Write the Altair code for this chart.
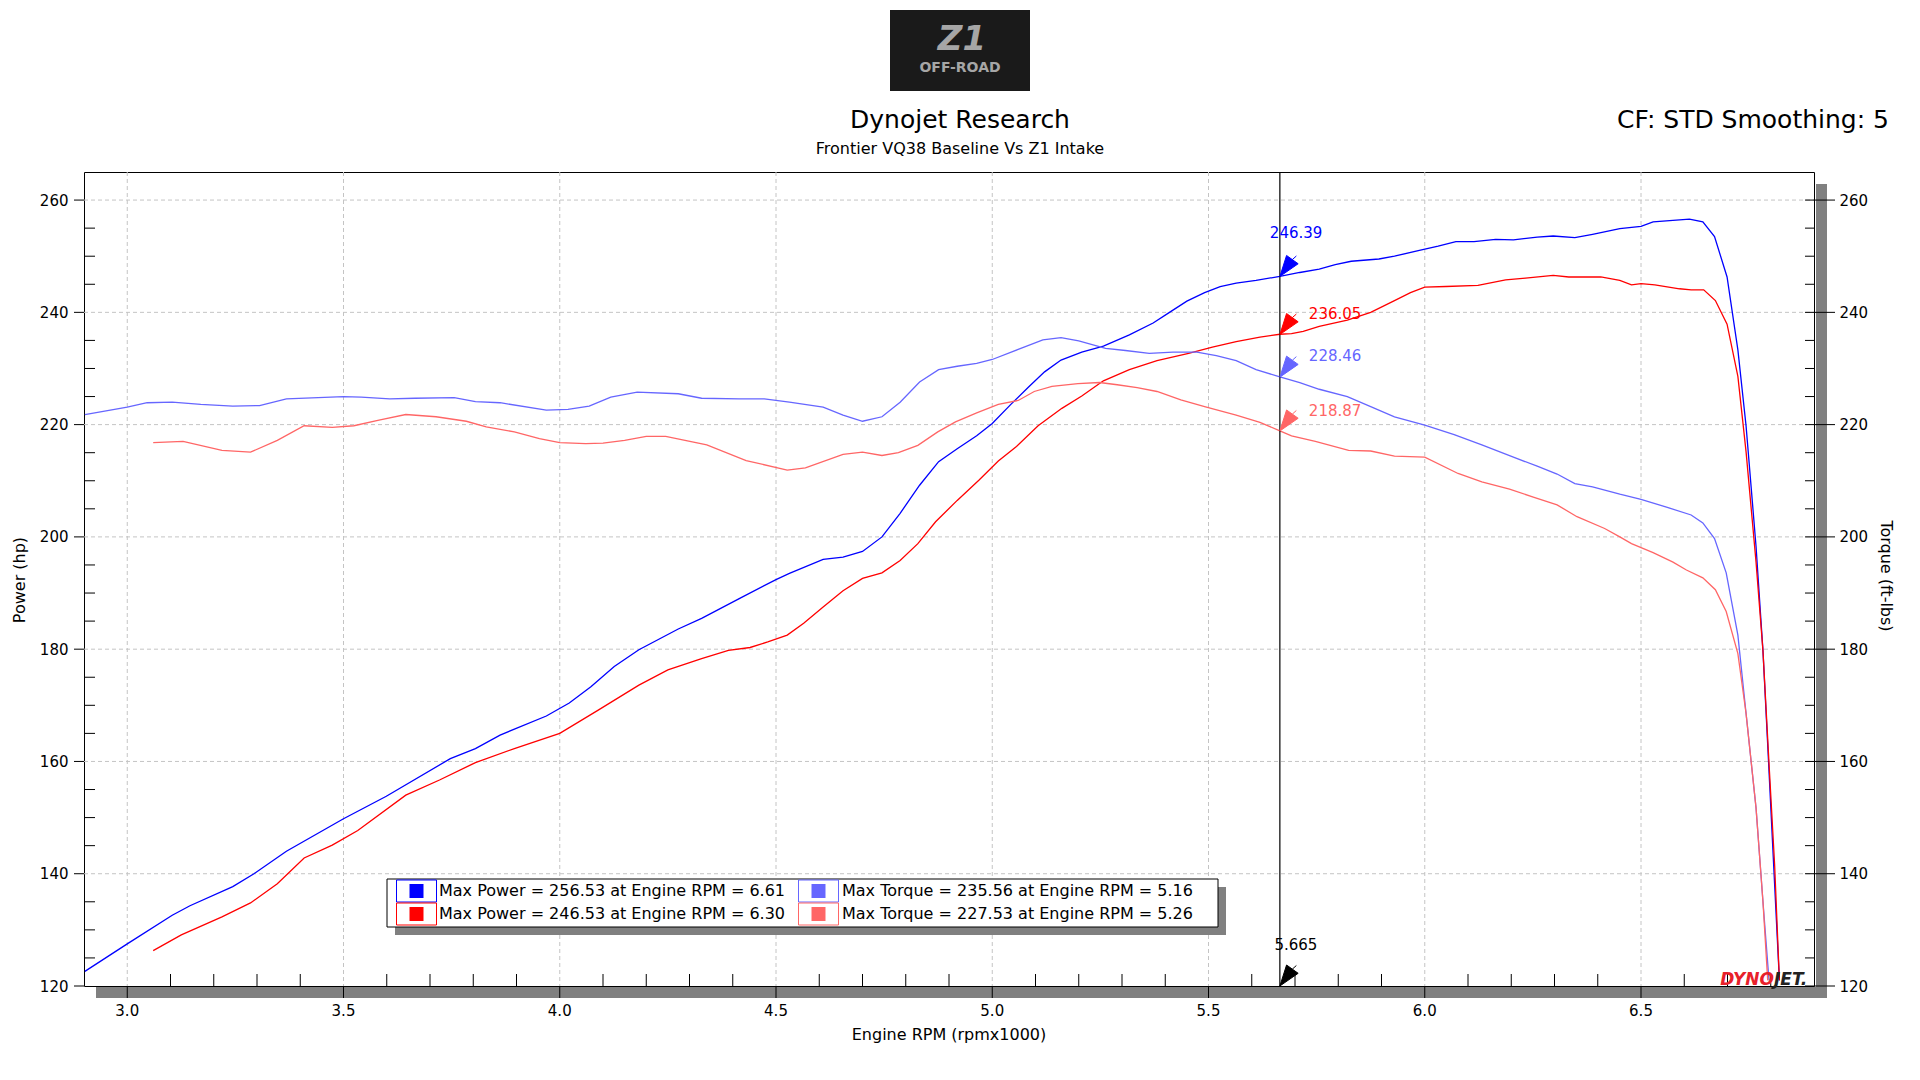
import altair as alt
import pandas as pd

# ---------------- data ----------------
P_Z1_RPM = [2.902, 3.000, 3.104, 3.145, 3.244, 3.293, 3.368, 3.500, 3.599, 3.747, 3.805, 3.862, 3.969,
            4.022, 4.072, 4.126, 4.183, 4.274, 4.328, 4.415, 4.500, 4.531, 4.609, 4.655, 4.700, 4.745,
            4.787, 4.832, 4.876, 4.919, 4.964, 5.000, 5.043, 5.084, 5.121, 5.159, 5.207, 5.257, 5.317,
            5.372, 5.408, 5.450, 5.491, 5.527, 5.564, 5.610, 5.665, 5.711, 5.756, 5.793, 5.830, 5.894,
            5.930, 5.985, 6.031, 6.072, 6.114, 6.164, 6.205, 6.260, 6.297, 6.347, 6.388, 6.451, 6.500,
            6.528, 6.612, 6.643, 6.670, 6.699, 6.724, 6.743, 6.766, 6.782, 6.793, 6.805, 6.820]
P_Z1_HP = [122.6, 127.5, 132.6, 134.3, 137.7, 140.0, 144.0, 149.8, 153.8, 160.5, 162.3, 164.7, 168.1,
           170.4, 173.3, 176.9, 179.9, 183.6, 185.5, 189.0, 192.4, 193.5, 196.0, 196.4, 197.4, 200.0,
           204.2, 209.2, 213.4, 215.7, 218.0, 220.2, 223.6, 226.7, 229.4, 231.5, 232.9, 234.0, 236.0,
           238.1, 239.9, 242.0, 243.5, 244.6, 245.2, 245.7, 246.4, 247.1, 247.7, 248.5, 249.1, 249.5,
           250.0, 251.0, 251.8, 252.6, 252.6, 253.0, 252.9, 253.4, 253.6, 253.3, 253.9, 254.9, 255.3,
           256.1, 256.6, 256.1, 253.5, 246.3, 233.3, 219.7, 198.3, 179.7, 162.9, 144.2, 121.0]

P_BASE_RPM = [3.060, 3.125, 3.219, 3.285, 3.347, 3.409, 3.474, 3.533, 3.644, 3.722, 3.805, 3.895, 4.000,
              4.088, 4.183, 4.250, 4.328, 4.390, 4.440, 4.481, 4.526, 4.564, 4.609, 4.655, 4.700, 4.745,
              4.787, 4.828, 4.869, 4.919, 4.969, 5.014, 5.056, 5.106, 5.161, 5.207, 5.257, 5.317, 5.381,
              5.454, 5.509, 5.564, 5.619, 5.665, 5.692, 5.719, 5.756, 5.821, 5.875, 5.930, 5.967, 6.000,
              6.049, 6.123, 6.187, 6.233, 6.297, 6.333, 6.407, 6.451, 6.478, 6.500, 6.532, 6.589, 6.616,
              6.645, 6.672, 6.699, 6.724, 6.743, 6.766, 6.782, 6.797, 6.809, 6.820]
P_BASE_HP = [126.3, 129.1, 132.3, 134.8, 138.2, 142.8, 145.1, 147.7, 154.0, 156.7, 159.8, 162.3, 165.0,
             169.1, 173.6, 176.3, 178.3, 179.8, 180.3, 181.3, 182.5, 184.6, 187.5, 190.4, 192.6, 193.6,
             195.8, 198.8, 202.7, 206.5, 210.1, 213.5, 216.1, 219.8, 222.9, 225.1, 227.8, 229.8, 231.4,
             232.7, 233.8, 234.8, 235.6, 236.1, 236.2, 236.6, 237.5, 238.6, 240.0, 242.1, 243.5, 244.5,
             244.6, 244.8, 245.8, 246.1, 246.6, 246.3, 246.3, 245.7, 244.9, 245.1, 244.9, 244.2, 244.0,
             244.0, 242.1, 237.9, 228.6, 215.1, 195.5, 179.7, 158.2, 141.5, 121.0]

T_Z1_RPM = [2.902, 3.000, 3.046, 3.104, 3.170, 3.244, 3.306, 3.368, 3.500, 3.541, 3.607, 3.665, 3.756,
            3.805, 3.862, 3.969, 4.019, 4.068, 4.118, 4.179, 4.274, 4.328, 4.415, 4.473, 4.531, 4.609,
            4.655, 4.700, 4.745, 4.787, 4.832, 4.876, 4.919, 4.964, 5.000, 5.060, 5.117, 5.159, 5.200,
            5.262, 5.308, 5.363, 5.418, 5.473, 5.518, 5.564, 5.610, 5.665, 5.711, 5.756, 5.821, 5.875,
            5.930, 6.000, 6.068, 6.132, 6.205, 6.260, 6.306, 6.347, 6.388, 6.451, 6.500, 6.559, 6.616,
            6.643, 6.670, 6.697, 6.724, 6.743, 6.766, 6.782, 6.796]
T_Z1_TQ = [221.8, 223.1, 223.9, 224.0, 223.6, 223.3, 223.4, 224.6, 225.0, 224.9, 224.6, 224.7, 224.8,
           224.1, 223.9, 222.6, 222.7, 223.3, 224.9, 225.8, 225.5, 224.7, 224.6, 224.6, 224.0, 223.1,
           221.7, 220.6, 221.4, 224.0, 227.6, 229.8, 230.4, 230.9, 231.6, 233.4, 235.1, 235.5, 234.9,
           233.6, 233.2, 232.7, 232.9, 232.9, 232.3, 231.4, 229.8, 228.5, 227.5, 226.3, 225.0, 223.2,
           221.4, 219.9, 218.2, 216.4, 214.2, 212.6, 211.2, 209.5, 208.9, 207.6, 206.7, 205.3, 203.9,
           202.5, 199.7, 193.6, 182.5, 168.5, 151.7, 135.0, 121.0]

T_BASE_RPM = [3.060, 3.129, 3.219, 3.285, 3.347, 3.409, 3.474, 3.524, 3.582, 3.644, 3.714, 3.784, 3.830,
              3.895, 3.953, 4.000, 4.060, 4.100, 4.150, 4.200, 4.245, 4.340, 4.431, 4.526, 4.568, 4.655,
              4.700, 4.745, 4.783, 4.828, 4.874, 4.915, 4.964, 5.014, 5.060, 5.097, 5.138, 5.198, 5.248,
              5.289, 5.335, 5.381, 5.436, 5.491, 5.564, 5.619, 5.665, 5.692, 5.747, 5.824, 5.875, 5.930,
              6.000, 6.077, 6.132, 6.196, 6.251, 6.306, 6.352, 6.416, 6.451, 6.478, 6.528, 6.574, 6.605,
              6.643, 6.672, 6.697, 6.724, 6.743, 6.766, 6.782, 6.793]
T_BASE_TQ = [216.8, 217.0, 215.4, 215.1, 217.2, 219.8, 219.5, 219.8, 220.8, 221.8, 221.4, 220.6, 219.6,
             218.7, 217.5, 216.8, 216.6, 216.7, 217.2, 217.9, 217.9, 216.4, 213.6, 211.9, 212.3, 214.7,
             215.1, 214.5, 215.0, 216.3, 218.7, 220.5, 222.1, 223.6, 224.3, 225.9, 226.8, 227.3, 227.5,
             227.1, 226.6, 225.9, 224.4, 223.2, 221.7, 220.4, 218.9, 218.0, 217.0, 215.4, 215.3, 214.4,
             214.2, 211.3, 209.8, 208.5, 207.1, 205.7, 203.6, 201.5, 200.0, 198.8, 197.2, 195.5, 194.1,
             192.7, 190.6, 186.7, 179.2, 168.5, 151.7, 135.0, 121.0]

X_TICKS = [3.0, 3.5, 4.0, 4.5, 5.0, 5.5, 6.0, 6.5]
Y_TICKS = [120, 140, 160, 180, 200, 220, 240, 260]
X_MINOR = [round(2.9 + 0.1 * i, 1) for i in range(1, 40) if round((2.9 + 0.1 * i) * 10) % 5 != 0]
Y_MINOR = [v for v in range(125, 265, 5) if v % 20 != 0]

CURSOR_RPM = 5.665
CURSOR_VALS = [246.39, 236.05, 228.46, 218.87]
LEGEND_TEXT = ["Max Power = 256.53 at Engine RPM = 6.61",
               "Max Power = 246.53 at Engine RPM = 6.30",
               "Max Torque = 235.56 at Engine RPM = 5.16",
               "Max Torque = 227.53 at Engine RPM = 5.26"]

TITLE = "Dynojet Research"
SUBTITLE = "Frontier VQ38 Baseline Vs Z1 Intake"
CF_TEXT = "CF: STD Smoothing: 5"
X_TITLE = "Engine RPM (rpmx1000)"
YL_TITLE = "Power (hp)"
YR_TITLE = "Torque (ft-lbs)"

# ---------------- styling ----------------
BLUE, RED, LBLUE, LRED = "#0000FF", "#FF0000", "#6666FF", "#FF6666"
FONT = "DejaVu Sans"
W, H = 1730, 814
SHADOW = "#808080"
GRID = "#c4c4c4"

XS = alt.Scale(domain=[2.9, 6.9], nice=False, zero=False)
YS = alt.Scale(domain=[120, 265], nice=False, zero=False)

YL_AXIS = alt.Axis(values=Y_TICKS, ticks=False, domain=False, grid=False, labelPadding=16, title=None)
YR_AXIS = alt.Axis(orient="right", values=Y_TICKS, ticks=False, domain=False, grid=False,
                   labelPadding=25, title=None)

one = pd.DataFrame({"a": [0]})


def prect(x1, x2, y1, y2, **kw):
    return alt.Chart(one).mark_rect(**kw).encode(
        x=alt.value(x1), x2=alt.value(x2), y=alt.value(y1), y2=alt.value(y2))


def ptext(x, y, txt, **kw):
    base = dict(font=FONT, fontSize=16, color="black", baseline="middle")
    base.update(kw)
    return alt.Chart(one).mark_text(text=txt, **base).encode(x=alt.value(x), y=alt.value(y))


def line_layer(rpm, vals, color, yaxis):
    df = pd.DataFrame({"rpm": rpm, "v": vals})
    return alt.Chart(df).mark_line(color=color, strokeWidth=1.3).encode(
        x=alt.X("rpm:Q", scale=XS, axis=None),
        y=alt.Y("v:Q", scale=YS, axis=yaxis))


layers = []

# dashed grid
layers.append(alt.Chart(pd.DataFrame({"v": X_TICKS})).mark_rule(color=GRID, strokeDash=[4, 3]).encode(
    x=alt.X("v:Q", scale=XS, axis=None), y=alt.value(0), y2=alt.value(H)))
layers.append(alt.Chart(pd.DataFrame({"v": Y_TICKS[1:]})).mark_rule(color=GRID, strokeDash=[4, 3]).encode(
    y=alt.Y("v:Q", scale=YS, axis=None), x=alt.value(0), x2=alt.value(W)))

# shadows of the plot frame
layers.append(prect(W + 2, W + 13, 12, H + 12, color=SHADOW))
layers.append(prect(12, W + 13, H + 1, H + 12, color=SHADOW))

# minor ticks (inward)
layers.append(alt.Chart(pd.DataFrame({"v": X_MINOR})).mark_rule(color="black").encode(
    x=alt.X("v:Q", scale=XS, axis=None), y=alt.value(H - 12), y2=alt.value(H)))
layers.append(alt.Chart(pd.DataFrame({"v": Y_MINOR})).mark_rule(color="black").encode(
    y=alt.Y("v:Q", scale=YS, axis=None), x=alt.value(0), x2=alt.value(11)))
layers.append(alt.Chart(pd.DataFrame({"v": Y_MINOR})).mark_rule(color="black").encode(
    y=alt.Y("v:Q", scale=YS, axis=None), x=alt.value(W - 9), x2=alt.value(W)))
# major ticks (outward)
layers.append(alt.Chart(pd.DataFrame({"v": X_TICKS})).mark_rule(color="black").encode(
    x=alt.X("v:Q", scale=XS, axis=None), y=alt.value(H), y2=alt.value(H + 12)))
layers.append(alt.Chart(pd.DataFrame({"v": Y_TICKS})).mark_rule(color="black").encode(
    y=alt.Y("v:Q", scale=YS, axis=None), x=alt.value(-10), x2=alt.value(0)))
layers.append(alt.Chart(pd.DataFrame({"v": Y_TICKS})).mark_rule(color="black").encode(
    y=alt.Y("v:Q", scale=YS, axis=None), x=alt.value(W - 9), x2=alt.value(W + 21)))
# x tick labels
layers.append(alt.Chart(pd.DataFrame({"v": X_TICKS})).mark_text(
    font=FONT, fontSize=15, color="black", baseline="middle", align="center").encode(
    x=alt.X("v:Q", scale=XS, axis=None), y=alt.value(H + 25), text=alt.Text("v:Q", format=".1f")))

# curves
layers.append(line_layer(P_Z1_RPM, P_Z1_HP, BLUE, YL_AXIS))
layers.append(line_layer(P_BASE_RPM, P_BASE_HP, RED, None))
layers.append(line_layer(T_Z1_RPM, T_Z1_TQ, LBLUE, YR_AXIS))
layers.append(line_layer(T_BASE_RPM, T_BASE_TQ, LRED, None))

# cursor
layers.append(alt.Chart(pd.DataFrame({"r": [CURSOR_RPM]})).mark_rule(color="black", strokeWidth=1.2).encode(
    x=alt.X("r:Q", scale=XS, axis=None), y=alt.value(0), y2=alt.value(H)))

ARROW = "M0,0L0.67,-2.1L1.83,-1.27Z M1.25,-1.69L1.65,-2.05"
ann_colors = [BLUE, RED, LBLUE, LRED]
ann_offsets = [(-10, -43, "left"), (29, -21, "left"), (29, -21, "left"), (29, -20, "left")]
for val, col, (dx, dy, al) in zip(CURSOR_VALS, ann_colors, ann_offsets):
    d = pd.DataFrame({"r": [CURSOR_RPM], "v": [val], "t": [f"{val:.2f}"]})
    enc = dict(x=alt.X("r:Q", scale=XS, axis=None), y=alt.Y("v:Q", scale=YS, axis=None))
    layers.append(alt.Chart(d).mark_point(shape=ARROW, size=400, filled=True, fill=col, stroke=col,
                                          strokeWidth=1, opacity=1).encode(**enc))
    layers.append(alt.Chart(d).mark_text(font=FONT, fontSize=15, color=col, align=al, baseline="middle",
                                         dx=dx, dy=dy).encode(text="t:N", **enc))
# rpm cursor marker
d = pd.DataFrame({"r": [CURSOR_RPM], "v": [120], "t": [f"{CURSOR_RPM:.3f}"]})
enc = dict(x=alt.X("r:Q", scale=XS, axis=None), y=alt.Y("v:Q", scale=YS, axis=None))
layers.append(alt.Chart(d).mark_point(shape=ARROW, size=400, filled=True, fill="black", stroke="black",
                                      strokeWidth=1, opacity=1).encode(**enc))
layers.append(alt.Chart(d).mark_text(font=FONT, fontSize=15, color="black", align="center", baseline="middle",
                                     dx=16, dy=-41).encode(text="t:N", **enc))

# legend box
LX0, LX1, LY0, LY1 = 303, 1134, 707, 755
layers.append(prect(LX0 + 8, LX1 + 8, LY0 + 8, LY1 + 8, color=SHADOW))
layers.append(prect(LX0, LX1, LY0, LY1, fill="white", stroke="black", strokeWidth=1))
sw_x = [312.5, 714.5]
tx_x = [355, 758]
row_y = [719, 742]
leg_colors = [BLUE, RED, LBLUE, LRED]
for i, (txt, col) in enumerate(zip(LEGEND_TEXT, leg_colors)):
    c, r = i // 2, i % 2
    x0 = sw_x[c]
    yc = row_y[r]
    layers.append(prect(x0, x0 + 40, yc - 11, yc + 11, fill="white", stroke=col, strokeWidth=1))
    layers.append(prect(x0 + 13, x0 + 27, yc - 7, yc + 7, color=col))
    layers.append(ptext(tx_x[c], yc, txt, align="left"))

# titles and texts
layers.append(ptext(876, -52, TITLE, fontSize=25, align="center"))
layers.append(ptext(876, -23, SUBTITLE, fontSize=16, align="center"))
layers.append(ptext(1805, -52, CF_TEXT, fontSize=25, align="right"))
layers.append(ptext(865, 863, X_TITLE, fontSize=16, align="center"))
layers.append(ptext(-64, 408, YL_TITLE, fontSize=16, align="center", angle=270))
layers.append(ptext(1802, 404, YR_TITLE, fontSize=16, align="center", angle=90))

# Z1 logo
layers.append(prect(806, 946, -162, -81, color="#1a1a1a"))
layers.append(ptext(878, -132, "Z1", fontSize=34, fontWeight=900, fontStyle="italic", color="#a6a6a6",
                    align="center"))
layers.append(ptext(876, -104, "OFF-ROAD", fontSize=14, fontWeight="bold", color="#a6a6a6", align="center"))

# DYNOJET logo
layers.append(ptext(1690, H - 1, "DYNO", fontSize=17, fontWeight="bold", fontStyle="italic",
                    color="#e8202a", align="right", baseline="alphabetic"))
layers.append(ptext(1690, H - 1, "JET.", fontSize=17, fontWeight="bold", fontStyle="italic",
                    color="#222222", align="left", baseline="alphabetic"))

chart = alt.layer(*layers).resolve_scale(y="independent").properties(
    width=W, height=H,
    autosize=alt.AutoSizeParams(type="none"),
    padding={"left": 84, "top": 172, "right": 1920 - 84 - W, "bottom": 1080 - 172 - H},
    background="white",
).configure_view(stroke="black", strokeWidth=1).configure_axis(
    labelFont=FONT, labelFontSize=15, labelColor="black")

chart.save("out.html", embed_options={"renderer": "svg", "actions": False})
